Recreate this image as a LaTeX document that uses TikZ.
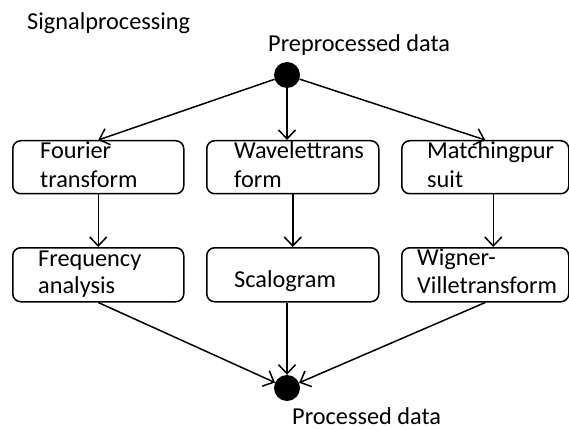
\documentclass[tikz,border=0pt]{standalone}
\usepackage{fontspec}
\setmainfont{Carlito}
\usetikzlibrary{arrows.meta}
\begin{document}
\begin{tikzpicture}[x=1pt,y=-1pt,
  every node/.style={font=\fontsize{24.3}{29}\selectfont},
  stepbox/.style={draw, line width=1.5pt, rounded corners=8pt, inner sep=0pt, anchor=north west, minimum height=53pt},
  txt/.style={inner sep=0pt, anchor=base west},
  dot/.style={circle, fill=black, inner sep=0pt, minimum size=26pt},
  flow/.style={line width=1.5pt, -{Straight Barb[length=9pt,width=17pt,line width=1.5pt]}}
]
\useasboundingbox (0,0) rectangle (569,430);
\node[txt] (title) at (27,30) {Signalprocessing};
\node[txt] (pre) at (268,52) {Preprocessed data};
\node[dot] (top) at (287,75) {};
% row 1
\node[stepbox, minimum width=171pt] (b1) at (12,140) {};
\node[stepbox, minimum width=172pt] (b2) at (206,140) {};
\node[stepbox, minimum width=167pt] (b3) at (401,140) {};
\node[txt] (b1a) at (40,159) {Fourier};
\node[txt] (b1b) at (40,187) {transform};
\node[txt] (b2a) at (234,159) {Wavelettrans};
\node[txt] (b2b) at (234,187) {form};
\node[txt] (b3a) at (427,159) {Matchingpur};
\node[txt] (b3b) at (427,187) {suit};
% row 2
\node[stepbox, minimum width=171pt, minimum height=54pt] (c1) at (12,247) {};
\node[stepbox, minimum width=172pt, minimum height=54pt] (c2) at (206,247) {};
\node[stepbox, minimum width=167pt, minimum height=54pt] (c3) at (401,247) {};
\node[txt] (c1a) at (38,266) {Frequency};
\node[txt] (c1b) at (38,293) {analysis};
\node[txt] (c2a) at (234,287) {Scalogram};
\node[txt] (c3a) at (417,265) {Wigner-};
\node[txt] (c3b) at (417,293) {Villetransform};
% bottom
\node[dot] (bot) at (287,388) {};
\node[txt] (post) at (292,424) {Processed data};
% connectors
\draw[flow] (top) -- (b1.north);
\draw[flow] (top) -- (top |- b2.north);
\draw[flow] (top) -- (b3.north);
\draw[flow] (b1.south) -- (c1.north);
\draw[flow] (b2.south) -- (c2.north);
\draw[flow] ([xshift=8pt]b3.south) -- ([xshift=8pt]c3.north);
\draw[flow] (c1.south) -- (bot);
\draw[flow] (bot |- c2.south) -- (bot);
\draw[flow] (c3.south) -- (bot);
\end{tikzpicture}
\end{document}
